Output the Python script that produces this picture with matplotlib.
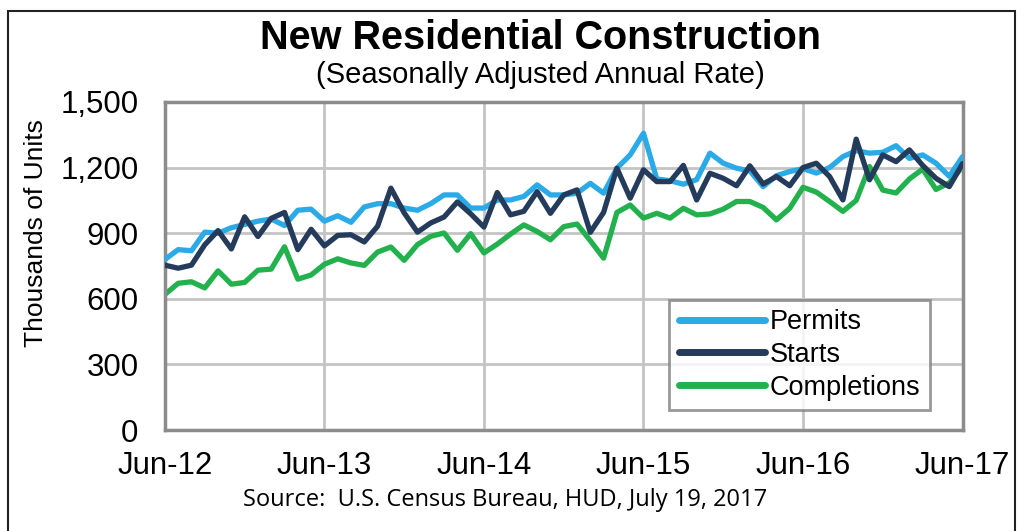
#!/usr/bin/env python3
"""
New Residential Construction chart (permits, starts, completions), Jun-12 to Jun-17.
"""
import matplotlib
matplotlib.use("Agg")
import matplotlib.pyplot as plt
import matplotlib.patches as mpatches
import numpy as np

# monthly SAAR, thousands of units, Jun-12 .. Jun-17
permits = [
    780, 825, 820, 905, 900, 925, 940, 955, 965, 935, 1005, 1010, 955,
    980, 950, 1020, 1035, 1035, 1015, 1005, 1035, 1075, 1075, 1015, 1015,
    1052, 1052, 1068, 1121, 1075, 1075, 1083, 1128, 1083, 1197, 1258, 1357,
    1148, 1140, 1124, 1145, 1266, 1220, 1197, 1185, 1113, 1163, 1182, 1195,
    1175, 1200, 1250, 1277, 1266, 1270, 1300, 1242, 1258, 1220, 1160, 1250,
]
starts = [
    754, 740, 754, 847, 912, 828, 975, 885, 968, 995, 825, 918, 842,
    890, 893, 860, 932, 1106, 993, 905, 947, 974, 1043, 989, 928,
    1086, 984, 1000, 1090, 991, 1075, 1098, 904, 995, 1197, 1060, 1190,
    1136, 1136, 1210, 1052, 1174, 1151, 1117, 1208, 1125, 1159, 1117, 1200,
    1220, 1159, 1052, 1330, 1144, 1258, 1227, 1281, 1210, 1151, 1113, 1218,
]
completions = [
    620, 671, 678, 650, 728, 667, 675, 731, 736, 838, 690, 709, 758,
    783, 764, 753, 814, 837, 776, 848, 886, 901, 822, 898, 810,
    850, 896, 938, 908, 870, 930, 942, 866, 786, 995, 1029, 969,
    991, 969, 1014, 984, 988, 1010, 1045, 1045, 1018, 961, 1014, 1110,
    1088, 1045, 1000, 1050, 1205, 1097, 1084, 1148, 1193, 1100, 1130, 1205,
]
tick_labels = ["Jun-12", "Jun-13", "Jun-14", "Jun-15", "Jun-16", "Jun-17"]
y_ticks = [0, 300, 600, 900, 1200, 1500]

plt.rcParams['font.family'] = ['Liberation Sans', 'DejaVu Sans']

fig = plt.figure(figsize=(10.24, 5.31), dpi=100)
ax = fig.add_axes([0.161, 0.190, 0.779, 0.618])

months = np.arange(len(permits))
ax.plot(months, permits, color='#2aaae6', linewidth=3.8, label='Permits',
        solid_joinstyle='round', solid_capstyle='round', zorder=3)
ax.plot(months, starts, color='#243b5c', linewidth=3.8, label='Starts',
        solid_joinstyle='round', solid_capstyle='round', zorder=4)
ax.plot(months, completions, color='#22b14c', linewidth=3.8, label='Completions',
        solid_joinstyle='round', solid_capstyle='round', zorder=2)

ax.set_xlim(0, 60)
ax.set_ylim(0, 1500)
ax.set_xticks(np.arange(0, 61, 12))
ax.set_xticklabels(tick_labels)
ax.set_yticks(y_ticks)
ax.set_yticklabels([f"{v:,}" for v in y_ticks])
ax.tick_params(axis='both', length=0, labelsize=22.5, colors='black')
ax.tick_params(axis='x', pad=15)
ax.tick_params(axis='y', pad=19)

ax.grid(True, color='#c4c4c4', linewidth=2)
ax.set_axisbelow(True)
for sp in ax.spines.values():
    sp.set_color('#8c8c8c')
    sp.set_linewidth(2.5)

ax.set_ylabel('Thousands of Units', fontsize=19)
ax.yaxis.set_label_coords(-0.146, 0.60)

leg = ax.legend(loc='lower right', bbox_to_anchor=(0.9586, 0.061), borderaxespad=0,
                fontsize=19.5, frameon=True, fancybox=False, handlelength=3.2,
                handletextpad=0.15, labelspacing=0.25, borderpad=0.35)
leg.get_frame().set_edgecolor('#7f7f7f')
leg.get_frame().set_linewidth(2)
for h in leg.get_lines():
    h.set_linewidth(5)

fig.text(0.528, 0.928, 'New Residential Construction', ha='center', va='center',
         fontsize=28.5, fontweight='bold')
fig.text(0.528, 0.858, '(Seasonally Adjusted Annual Rate)', ha='center', va='center',
         fontsize=21)
fig.text(0.493, 0.058, 'Source:  U.S. Census Bureau, HUD, July 19, 2017', ha='center',
         va='center', fontsize=17, family=['Open Sans', 'DejaVu Sans'])

# outer frame
frame = mpatches.Rectangle((0.008, -0.01), 0.983, 0.99, transform=fig.transFigure,
                           fill=False, edgecolor='#222222', linewidth=1.5)
fig.patches.append(frame)

fig.savefig('out.png', dpi=100, facecolor='white')
plt.close(fig)
